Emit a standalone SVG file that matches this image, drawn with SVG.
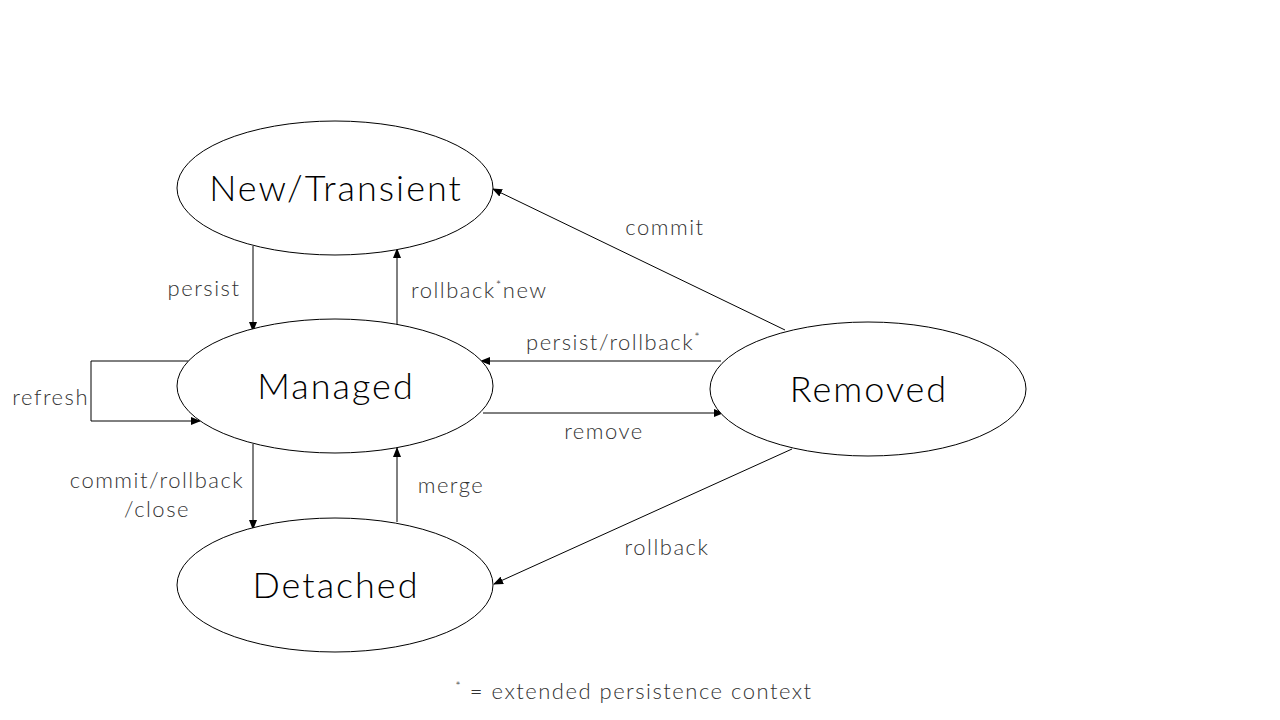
<svg xmlns="http://www.w3.org/2000/svg" width="1280" height="720" viewBox="0 0 1280 720">
<style>
.node{fill:#fff;stroke:#000;stroke-width:1}
.nt{font-family:Lato,"Open Sans","Liberation Sans",sans-serif;font-weight:300;font-size:36px;letter-spacing:2px;fill:#000;text-anchor:middle}
.lb{font-family:Lato,"Open Sans","Liberation Sans",sans-serif;font-weight:300;font-size:22px;letter-spacing:1.5px;fill:#333}
.edge{fill:none;stroke:#000;stroke-width:1}
.sup{font-size:13px}
</style>
<defs>
<marker id="ah" markerWidth="10" markerHeight="8" refX="9" refY="4" orient="auto" markerUnits="userSpaceOnUse">
<path d="M0,0 L10,4 L0,8 Z" fill="#000"/>
</marker>
</defs>
<rect width="1280" height="720" fill="#fff"/>
<g id="connectors">
<line class="edge" x1="253" y1="246" x2="253" y2="331" marker-end="url(#ah)"/>
<line class="edge" x1="397" y1="324" x2="397" y2="249" marker-end="url(#ah)"/>
<polyline class="edge" points="189,361 91,361 91,421 200,421" marker-end="url(#ah)"/>
<line class="edge" x1="721" y1="361" x2="481" y2="361" marker-end="url(#ah)"/>
<line class="edge" x1="483" y1="413" x2="723" y2="413" marker-end="url(#ah)"/>
<line class="edge" x1="785" y1="330" x2="493" y2="189" marker-end="url(#ah)"/>
<line class="edge" x1="792" y1="449" x2="494" y2="584" marker-end="url(#ah)"/>
<line class="edge" x1="253" y1="444" x2="253" y2="529" marker-end="url(#ah)"/>
<line class="edge" x1="397" y1="522" x2="397" y2="448" marker-end="url(#ah)"/>
</g>
<g id="labels">
<text class="lb" x="204" y="296" text-anchor="middle">persist</text>
<text class="lb" x="411" y="298">rollback<tspan class="sup" dy="-8">*</tspan><tspan dy="8">new</tspan></text>
<text class="lb" x="89" y="405" text-anchor="end">refresh</text>
<text class="lb" x="526" y="350">persist/rollback<tspan class="sup" dy="-8">*</tspan></text>
<text class="lb" x="604" y="439" text-anchor="middle">remove</text>
<text class="lb" x="665" y="235" text-anchor="middle">commit</text>
<text class="lb" x="157" y="488" text-anchor="middle">commit/rollback</text>
<text class="lb" x="157" y="517" text-anchor="middle">/close</text>
<text class="lb" x="451" y="493" text-anchor="middle">merge</text>
<text class="lb" x="667" y="555" text-anchor="middle">rollback</text>
<text class="lb" x="634" y="699" text-anchor="middle"><tspan class="sup" dy="-8">*</tspan><tspan dy="8"> = extended persistence context</tspan></text>
</g>
<g id="new-transient">
<ellipse class="node" cx="335" cy="188" rx="158" ry="67"/>
<text class="nt" x="336" y="201">New/Transient</text>
</g>
<g id="managed">
<ellipse class="node" cx="335" cy="386" rx="158" ry="67"/>
<text class="nt" x="336" y="399">Managed</text>
</g>
<g id="detached">
<ellipse class="node" cx="335" cy="585" rx="158" ry="67"/>
<text class="nt" x="336" y="598">Detached</text>
</g>
<g id="removed">
<ellipse class="node" cx="868" cy="389" rx="158" ry="67"/>
<text class="nt" x="869" y="402">Removed</text>
</g>
</svg>
